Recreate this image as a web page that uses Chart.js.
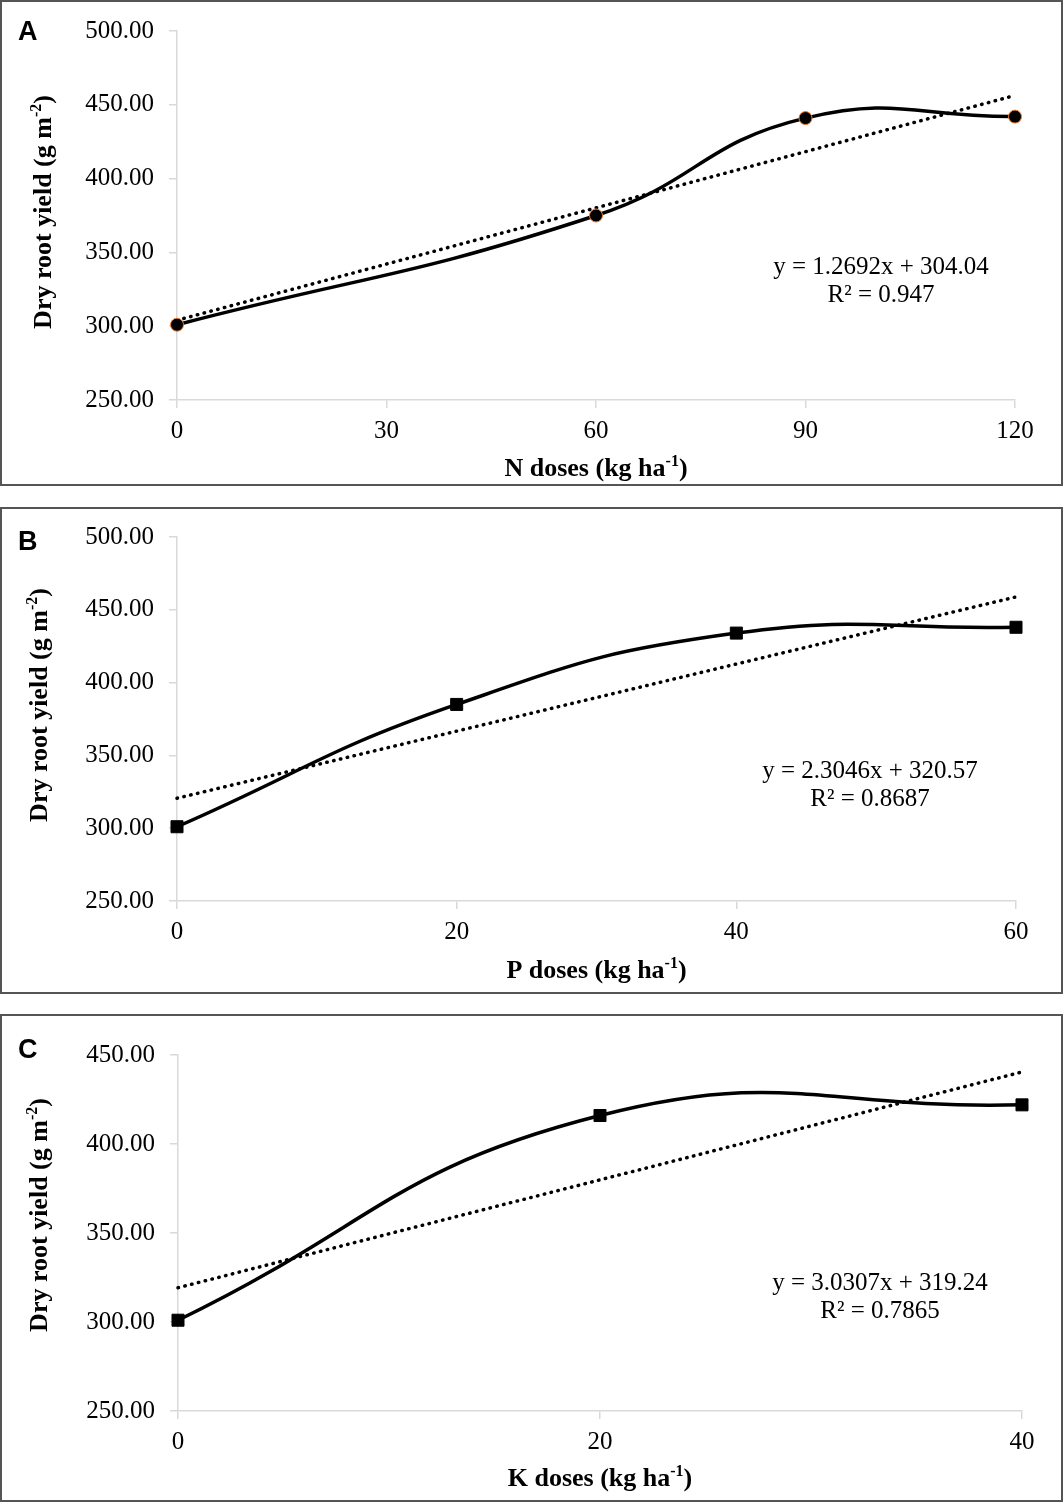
<!DOCTYPE html>
<html>
<head>
<meta charset="utf-8">
<script src="https://cdn.jsdelivr.net/npm/chart.js@4.4.1/dist/chart.umd.min.js"></script>
<style>
  body { margin: 0; background: #fff; width: 1063px; height: 1502px; position: relative; overflow: hidden; }
  .panel { position: absolute; left: 0; width: 1063px; box-sizing: border-box; border: 2px solid #555; }
  canvas { position: absolute; left: 0; }
</style>
</head>
<body>
<div class="panel" style="top:0;height:486px"></div>
<div class="panel" style="top:507px;height:487px"></div>
<div class="panel" style="top:1014px;height:488px"></div>
<canvas id="chartA" width="1063" height="486" style="top:0"></canvas>
<canvas id="chartB" width="1063" height="487" style="top:507px"></canvas>
<canvas id="chartC" width="1063" height="488" style="top:1014px"></canvas>
<script>
// panel A - nitrogen
const nDoses = [0, 60, 90, 120];
const nYield = [301, 375, 441, 442];
const nTrendX = [0, 120];
const nTrendY = [304.04, 456.34];
const nEquation = ["y = 1.2692x + 304.04", "R² = 0.947"];

// panel B - phosphorus
const pDoses = [0, 20, 40, 60];
const pYield = [301, 385, 434, 438];
const pTrendX = [0, 60];
const pTrendY = [320.57, 458.85];
const pEquation = ["y = 2.3046x + 320.57", "R² = 0.8687"];

// panel C - potassium
const kDoses = [0, 20, 40];
const kYield = [301, 416, 422];
const kTrendX = [0, 40];
const kTrendY = [319.24, 440.47];
const kEquation = ["y = 3.0307x + 319.24", "R² = 0.7865"];

const yTitle = [["Dry root yield (g m"], ["-2", true], [")"]];

const SERIF = "'Liberation Serif', 'Times New Roman', serif";
const GRAY = "#d9d9d9";

// draw a line of text with superscript parts, aligned on its centre
function richText(ctx, parts, x, y, size) {
  let total = 0;
  const widths = parts.map(([t, sup]) => {
    ctx.font = "bold " + (sup ? Math.round(size * 0.62) : size) + "px " + SERIF;
    const w = ctx.measureText(t).width;
    total += w;
    return w;
  });
  let cx = x - total / 2;
  ctx.textAlign = "left";
  ctx.textBaseline = "alphabetic";
  parts.forEach(([t, sup], i) => {
    ctx.font = "bold " + (sup ? Math.round(size * 0.62) : size) + "px " + SERIF;
    ctx.fillText(t, cx, sup ? y - size * 0.38 : y);
    cx += widths[i];
  });
}

const decorations = {
  id: "decorations",
  afterDraw(chart, args, o) {
    const ctx = chart.ctx;
    const area = chart.chartArea;
    ctx.save();
    ctx.fillStyle = "#000";
    // panel letter
    ctx.font = "bold 27px 'Liberation Sans', Arial, sans-serif";
    ctx.textAlign = "left";
    ctx.textBaseline = "alphabetic";
    ctx.fillText(o.letter, 18, o.letterY);
    // x axis title
    richText(ctx, o.xTitle, (area.left + area.right) / 2, o.xTitleY, 26);
    // y axis title
    ctx.save();
    ctx.translate(o.yTitleX, o.yTitleY);
    ctx.rotate(-Math.PI / 2);
    richText(ctx, yTitle, 0, 0, 26);
    ctx.restore();
    // trendline equation
    ctx.font = "25px " + SERIF;
    ctx.textAlign = "center";
    ctx.fillText(o.eq[0], o.eqX, o.eqY);
    ctx.fillText(o.eq[1], o.eqX, o.eqY + 28);
    ctx.restore();
  }
};

function makePanel(id, xs, ys, tx, ty, opts) {
  const canvas = document.getElementById(id);
  const W = canvas.width, H = canvas.height;
  const a = opts.area;
  return new Chart(canvas, {
    type: "scatter",
    data: {
      datasets: [
        {
          data: xs.map((x, i) => ({ x: x, y: ys[i] })),
          showLine: true,
          tension: 0.47,
          borderColor: "#000",
          borderWidth: 3.5,
          pointStyle: opts.marker,
          pointRadius: opts.markerRadius,
          pointBackgroundColor: "#000",
          pointBorderColor: opts.markerEdge,
          pointBorderWidth: 1,
          clip: false,
          order: 0
        },
        {
          data: tx.map((x, i) => ({ x: x, y: ty[i] })),
          showLine: true,
          borderColor: "#000",
          borderWidth: 3.5,
          borderDash: [0.5, 6.5],
          borderCapStyle: "round",
          pointRadius: 0,
          clip: false,
          order: 1
        }
      ]
    },
    options: {
      responsive: false,
      animation: false,
      devicePixelRatio: 1,
      layout: { padding: { left: 0, top: a.top, right: W - a.right, bottom: 0 } },
      plugins: {
        legend: { display: false },
        tooltip: { enabled: false },
        decorations: opts.deco
      },
      scales: {
        x: {
          type: "linear",
          min: opts.xMin, max: opts.xMax,
          afterFit: s => { s.height = H - a.bottom; },
          ticks: {
            stepSize: opts.xStep,
            color: "#000",
            padding: 8,
            font: { family: SERIF, size: 25 }
          },
          grid: { drawOnChartArea: false, drawTicks: true, tickLength: 8, color: GRAY, lineWidth: 1.5 },
          border: { display: true, color: GRAY, width: 1.5 }
        },
        y: {
          min: opts.yMin, max: opts.yMax,
          afterFit: s => { s.width = a.left; },
          ticks: {
            stepSize: 50,
            color: "#000",
            padding: 15,
            font: { family: SERIF, size: 25 },
            callback: v => v.toFixed(2)
          },
          grid: { drawOnChartArea: false, drawTicks: true, tickLength: 8, color: GRAY, lineWidth: 1.5 },
          border: { display: true, color: GRAY, width: 1.5 }
        }
      }
    },
    plugins: [decorations]
  });
}

makePanel("chartA", nDoses, nYield, nTrendX, nTrendY, {
  area: { left: 177, right: 1015, top: 31, bottom: 400 },
  xMin: 0, xMax: 120, xStep: 30, yMin: 250, yMax: 500,
  marker: "circle", markerRadius: 6.5, markerEdge: "#ed7d31",
  deco: {
    letter: "A", letterY: 40,
    xTitle: [["N doses (kg ha"], ["-1", true], [")"]], xTitleY: 476,
    yTitleX: 51, yTitleY: 212,
    eq: nEquation, eqX: 881, eqY: 274
  }
});

makePanel("chartB", pDoses, pYield, pTrendX, pTrendY, {
  area: { left: 177, right: 1016, top: 25, bottom: 394 },
  xMin: 0, xMax: 60, xStep: 20, yMin: 250, yMax: 500,
  marker: "rect", markerRadius: 8.5, markerEdge: "#000",
  deco: {
    letter: "B", letterY: 43,
    xTitle: [["P doses (kg ha"], ["-1", true], [")"]], xTitleY: 471,
    yTitleX: 47, yTitleY: 198,
    eq: pEquation, eqX: 870, eqY: 271
  }
});

makePanel("chartC", kDoses, kYield, kTrendX, kTrendY, {
  area: { left: 178, right: 1022, top: 41, bottom: 397 },
  xMin: 0, xMax: 40, xStep: 20, yMin: 250, yMax: 450,
  marker: "rect", markerRadius: 8.5, markerEdge: "#000",
  deco: {
    letter: "C", letterY: 44,
    xTitle: [["K doses (kg ha"], ["-1", true], [")"]], xTitleY: 472,
    yTitleX: 47, yTitleY: 201,
    eq: kEquation, eqX: 880, eqY: 276
  }
});
</script>
</body>
</html>
